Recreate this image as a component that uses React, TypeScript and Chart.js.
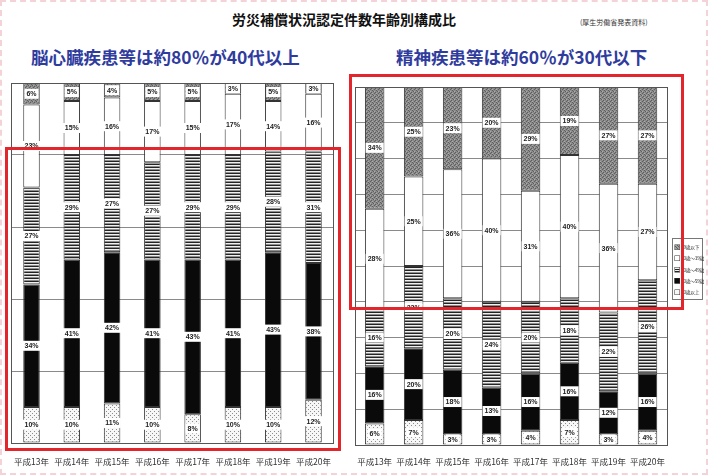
import React, { useEffect, useRef } from "react";
import { Chart, registerables } from "chart.js";

Chart.register(...registerables);

// 年度（カテゴリ）
const years = ["平成13年", "平成14年", "平成15年", "平成16年", "平成17年", "平成18年", "平成19年", "平成20年"];
const ageGroups = ["29歳以下", "30歳～39歳", "40歳～49歳", "50歳～59歳", "60歳以上"];

// 脳心臓疾患等（％）
const cardioUnder29 = [6, 5, 4, 5, 5, 3, 5, 3];
const cardio30s = [23, 15, 16, 17, 15, 17, 14, 16];
const cardio40s = [27, 29, 27, 27, 29, 29, 28, 31];
const cardio50s = [34, 41, 42, 41, 43, 41, 43, 38];
const cardio60plus = [10, 10, 11, 10, 8, 10, 10, 12];

// 精神疾患等（％）
const mentalUnder29 = [34, 25, 23, 20, 29, 19, 27, 27];
const mental30s = [28, 25, 36, 40, 31, 40, 36, 27];
const mental40s = [16, 23, 20, 24, 20, 18, 22, 26];
const mental50s = [16, 20, 18, 13, 16, 16, 12, 16];
const mental60plus = [6, 7, 3, 3, 4, 7, 3, 4];

type Fills = { gray: CanvasPattern | string; white: string; stripes: CanvasPattern | string; black: string; dots: CanvasPattern | string };
type Pad = { left: number; right: number; top: number; bottom: number };

function makePattern(w: number, h: number, draw: (c: CanvasRenderingContext2D) => void): CanvasPattern | string {
  const cv = document.createElement("canvas");
  cv.width = w;
  cv.height = h;
  const c = cv.getContext("2d");
  if (!c) return "#999";
  draw(c);
  const p = c.createPattern(cv, "repeat");
  return p || "#999";
}

function buildFills(): Fills {
  const gray = makePattern(4, 4, (c) => {
    c.fillStyle = "#8c8c8c";
    c.fillRect(0, 0, 4, 4);
    c.fillStyle = "#5e5e5e";
    [[0, 0], [2, 1], [1, 2], [3, 3]].forEach(([x, y]) => c.fillRect(x, y, 1, 1));
    c.fillStyle = "#ababab";
    [[1, 0], [3, 2]].forEach(([x, y]) => c.fillRect(x, y, 1, 1));
  });
  const stripes = makePattern(4, 3, (c) => {
    c.fillStyle = "#f0f0f0";
    c.fillRect(0, 0, 4, 3);
    c.fillStyle = "#242424";
    c.fillRect(0, 0, 4, 1);
    c.fillStyle = "#8e8e8e";
    c.fillRect(0, 2, 4, 1);
  });
  const dots = makePattern(4, 4, (c) => {
    c.fillStyle = "#f7f7f7";
    c.fillRect(0, 0, 4, 4);
    c.fillStyle = "#8c8c8c";
    c.fillRect(0, 0, 1, 1);
    c.fillRect(2, 2, 1, 1);
  });
  return { gray, white: "#ffffff", stripes, black: "#0a0a0a", dots };
}

// 各区分の中央に「xx%」の白抜きラベルを描く
const segmentLabels = {
  id: "segmentLabels",
  afterDatasetsDraw(chart: any) {
    const ctx = chart.ctx as CanvasRenderingContext2D;
    ctx.save();
    ctx.font = "bold 7px 'Liberation Sans', sans-serif";
    ctx.textAlign = "center";
    ctx.textBaseline = "middle";
    chart.data.datasets.forEach((ds: any, di: number) => {
      const meta = chart.getDatasetMeta(di);
      meta.data.forEach((bar: any, i: number) => {
        const v = ds.data[i];
        const { x, y, base } = bar.getProps(["x", "y", "base"], true);
        const cy = (y + base) / 2;
        const text = `${v}%`;
        const w = ctx.measureText(text).width + 4;
        ctx.fillStyle = "#ffffff";
        ctx.fillRect(x - w / 2, cy - 5, w, 10);
        ctx.fillStyle = "#222222";
        ctx.fillText(text, x, cy + 0.5);
      });
    });
    ctx.restore();
  },
};

// 描画領域の外枠
const plotFrame = {
  id: "plotFrame",
  afterDraw(chart: any) {
    const { ctx, chartArea } = chart;
    ctx.save();
    ctx.strokeStyle = "#555555";
    ctx.lineWidth = 1;
    ctx.strokeRect(
      Math.round(chartArea.left) + 0.5,
      Math.round(chartArea.top) + 0.5,
      Math.round(chartArea.right - chartArea.left),
      Math.round(chartArea.bottom - chartArea.top)
    );
    ctx.restore();
  },
};

function makeConfig(series: number[][], fills: Fills, step: number, barPct: number, padding: Pad, axisHeight: number, tickPad: number): any {
  const fillList = [fills.dots, fills.black, fills.stripes, fills.white, fills.gray];
  const names = [ageGroups[4], ageGroups[3], ageGroups[2], ageGroups[1], ageGroups[0]];
  return {
    type: "bar",
    data: {
      labels: years,
      datasets: series.map((data, i) => ({
        label: names[i],
        data,
        backgroundColor: fillList[i],
        borderColor: "#333333",
        borderWidth: 1,
        borderSkipped: false,
        barPercentage: barPct,
        categoryPercentage: 1,
      })),
    },
    options: {
      responsive: false,
      animation: false,
      layout: { padding },
      plugins: { legend: { display: false }, tooltip: { enabled: false } },
      scales: {
        x: {
          stacked: true,
          grid: { display: false, drawTicks: false },
          border: { display: false },
          afterFit: (scale: any) => {
            scale.height = axisHeight;
          },
          ticks: {
            autoSkip: false,
            maxRotation: 0,
            padding: tickPad,
            color: "#333333",
            font: { family: "'Noto Sans CJK JP', sans-serif", size: 8.5 },
          },
        },
        y: {
          stacked: true,
          min: 0,
          max: 100,
          afterFit: (scale: any) => {
            scale.width = 0;
          },
          ticks: { display: false, stepSize: step },
          grid: { color: "#8a8a8a", lineWidth: 1, drawTicks: false },
          border: { display: false },
        },
      },
    },
    plugins: [plotFrame, segmentLabels],
  };
}

function StackedChart(props: {
  series: number[][];
  step: number;
  barPct: number;
  padding: Pad;
  axisHeight: number;
  tickPad: number;
  style: React.CSSProperties;
  width: number;
  height: number;
}) {
  const ref = useRef<HTMLCanvasElement | null>(null);
  useEffect(() => {
    if (!ref.current) return;
    const fills = buildFills();
    const chart = new Chart(
      ref.current,
      makeConfig(props.series, fills, props.step, props.barPct, props.padding, props.axisHeight, props.tickPad)
    );
    return () => chart.destroy();
  }, []);
  return <canvas ref={ref} width={props.width} height={props.height} style={props.style} />;
}

const legendSwatches: React.CSSProperties[] = [
  { background: "repeating-linear-gradient(45deg,#5e5e5e 0 2px,#a0a0a0 2px 4px)" },
  { background: "#ffffff" },
  { background: "repeating-linear-gradient(0deg,#242424 0 2px,#f0f0f0 2px 5px)" },
  { background: "#0a0a0a" },
  { background: "radial-gradient(#8c8c8c 30%, #f7f7f7 35%) 0 0/4px 4px" },
];

export default function App() {
  const font = "'Noto Sans CJK JP', 'Noto Sans CJK SC', sans-serif";
  return (
    <div
      style={{
        position: "absolute",
        left: 0,
        top: 0,
        width: 708,
        height: 475,
        overflow: "hidden",
        background: "#ffffff",
        fontFamily: font,
      }}
    >
      <div style={{ position: "absolute", left: 232, top: 12, fontSize: 14, fontWeight: 700, color: "#111", lineHeight: 1, whiteSpace: "nowrap" }}>
        労災補償状況認定件数年齢別構成比
      </div>
      <div style={{ position: "absolute", left: 580, top: 19, fontSize: 7, color: "#333", lineHeight: 1, whiteSpace: "nowrap" }}>
        (厚生労働省発表資料)
      </div>
      <div style={{ position: "absolute", left: 31, top: 48, fontSize: 17.5, fontWeight: 700, color: "#2f3c9e", lineHeight: 1, whiteSpace: "nowrap" }}>
        脳心臓疾患等は約80％が40代以上
      </div>
      <div style={{ position: "absolute", left: 396, top: 48, fontSize: 17.5, fontWeight: 700, color: "#2f3c9e", lineHeight: 1, whiteSpace: "nowrap" }}>
        精神疾患等は約60％が30代以下
      </div>

      <StackedChart
        series={[cardio60plus, cardio50s, cardio40s, cardio30s, cardioUnder29]}
        step={20}
        barPct={0.41}
        padding={{ left: 9, right: 3, top: 6, bottom: 0 }}
        axisHeight={32}
        tickPad={14}
        width={345}
        height={398}
        style={{ position: "absolute", left: 0, top: 77 }}
      />
      <StackedChart
        series={[mental60plus, mental50s, mental40s, mental30s, mentalUnder29]}
        step={10}
        barPct={0.5}
        padding={{ left: 3, right: 41, top: 12, bottom: 0 }}
        axisHeight={30}
        tickPad={12}
        width={363}
        height={400}
        style={{ position: "absolute", left: 345, top: 75 }}
      />

      {/* 凡例 */}
      <div
        style={{
          position: "absolute",
          left: 672,
          top: 238,
          width: 62,
          height: 124,
          transform: "scale(0.5)",
          transformOrigin: "0 0",
          border: "2px solid #777",
          boxSizing: "border-box",
          background: "#fff",
          padding: "5px 3px",
        }}
      >
        {ageGroups.map((g, i) => (
          <div key={g} style={{ display: "flex", alignItems: "center", height: 22.5, fontSize: 9.5, color: "#333", whiteSpace: "nowrap", lineHeight: 1, letterSpacing: -0.5 }}>
            <span style={{ display: "inline-block", width: 9, height: 9, border: "1px solid #333", marginRight: 2, flex: "none", ...legendSwatches[i] }} />
            {g}
          </div>
        ))}
      </div>

      {/* 強調枠 */}
      <div style={{ position: "absolute", left: 5, top: 147, width: 336, height: 304, border: "3px solid #e3262b", boxSizing: "border-box" }} />
      <div style={{ position: "absolute", left: 349, top: 74, width: 335, height: 236, border: "3px solid #e3262b", boxSizing: "border-box" }} />

      {/* 外周の点線 */}
      <div style={{ position: "absolute", inset: 0, border: "2px dashed #f4d3d8", pointerEvents: "none" }} />
    </div>
  );
}
